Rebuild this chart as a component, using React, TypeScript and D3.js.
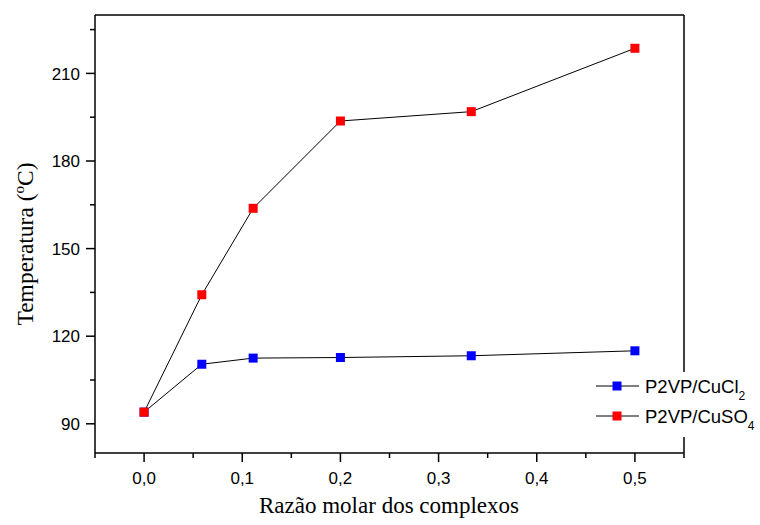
import React from "react";
import * as d3 from "d3";

const xValues = [0, 0.0588, 0.1111, 0.2, 0.3333, 0.5];
const cuCl2 = [94, 110.4, 112.5, 112.7, 113.3, 115.0];
const cuSO4 = [94, 134.2, 163.8, 193.7, 196.9, 218.6];
const xTicks = [0, 0.1, 0.2, 0.3, 0.4, 0.5];
const xMinor = [-0.05, 0.05, 0.15, 0.25, 0.35, 0.45, 0.55];
const yTicks = [90, 120, 150, 180, 210];
const yMinor = [105, 135, 165, 195, 225];

const W = 760, H = 525;
const L = 95, R = 684, T = 15, B = 453;

export default function App() {
  const x = d3.scaleLinear().domain([-0.05, 0.55]).range([L, R]);
  const y = d3.scaleLinear().domain([80, 230]).range([B, T]);
  const line = d3.line<[number, number]>().x(d => x(d[0])).y(d => y(d[1]));
  const series = [
    { name: "CuCl", sub: "2", vals: cuCl2, color: "#0000ff" },
    { name: "CuSO", sub: "4", vals: cuSO4, color: "#ff0000" },
  ];
  const fmt = (v: number) => v.toFixed(1).replace(".", ",");
  const ms = 9;
  const sans = "Arial, 'Liberation Sans', sans-serif";
  const serif = "'Times New Roman', 'Liberation Serif', serif";
  return (
    <svg width={W} height={H} style={{ position: "absolute", left: 0, top: 0, background: "#fff" }}>
      <rect x={0} y={0} width={W} height={H} fill="#fff" />
      {/* frame */}
      <line x1={L} y1={T} x2={R} y2={T} stroke="#000" strokeWidth={1.5} />
      <line x1={R} y1={T} x2={R} y2={B} stroke="#000" strokeWidth={1.5} />
      <line x1={L} y1={T} x2={L} y2={B} stroke="#000" strokeWidth={1.5} />
      <line x1={L} y1={B} x2={R} y2={B} stroke="#000" strokeWidth={1.5} />
      {/* y ticks */}
      {yTicks.map(t => (
        <g key={"y" + t}>
          <line x1={L - 9} x2={L} y1={y(t)} y2={y(t)} stroke="#000" strokeWidth={1.5} />
          <text x={L - 15} y={y(t)} dy="0.36em" textAnchor="end" fontFamily={sans} fontSize={17}>{t}</text>
        </g>
      ))}
      {yMinor.map(t => (
        <line key={"ym" + t} x1={L - 5} x2={L} y1={y(t)} y2={y(t)} stroke="#000" strokeWidth={1.5} />
      ))}
      {/* x ticks */}
      {xTicks.map(t => (
        <g key={"x" + t}>
          <line x1={x(t)} x2={x(t)} y1={B} y2={B + 9} stroke="#000" strokeWidth={1.5} />
          <text x={x(t)} y={B + 31} textAnchor="middle" fontFamily={sans} fontSize={17}>{fmt(t)}</text>
        </g>
      ))}
      {xMinor.map(t => (
        <line key={"xm" + t} x1={x(t)} x2={x(t)} y1={B} y2={B + 5} stroke="#000" strokeWidth={1.5} />
      ))}
      {/* series */}
      {series.map(s => (
        <g key={s.name}>
          <path d={line(xValues.map((v, i) => [v, s.vals[i]]) as [number, number][]) || ""} fill="none" stroke="#000" strokeWidth={1} />
          {xValues.map((v, i) => (
            <rect key={i} x={x(v) - ms / 2} y={y(s.vals[i]) - ms / 2} width={ms} height={ms} fill={s.color} />
          ))}
        </g>
      ))}
      {/* axis labels */}
      <text x={389} y={513} textAnchor="middle" fontFamily={serif} fontSize={23}>Razão molar dos complexos</text>
      <text transform={`translate(33,244) rotate(-90)`} textAnchor="middle" fontFamily={serif} fontSize={23.5}>
        Temperatura (<tspan dy={-9} fontSize={15}>o</tspan><tspan dy={9}>C)</tspan>
      </text>
      {/* legend */}
      <rect x={590} y={372} width={170} height={65} fill="#fff" />
      {series.map((s, i) => {
        const ly = 386 + i * 30;
        return (
          <g key={"lg" + s.name}>
            <line x1={596} x2={639} y1={ly} y2={ly} stroke="#000" strokeWidth={1} />
            <rect x={617 - ms / 2} y={ly - ms / 2} width={ms} height={ms} fill={s.color} />
            <text x={645} y={ly} dy="0.36em" fontFamily={sans} fontSize={18.5}>
              P2VP/{s.name}<tspan dy={7} fontSize={12}>{s.sub}</tspan>
            </text>
          </g>
        );
      })}
    </svg>
  );
}
